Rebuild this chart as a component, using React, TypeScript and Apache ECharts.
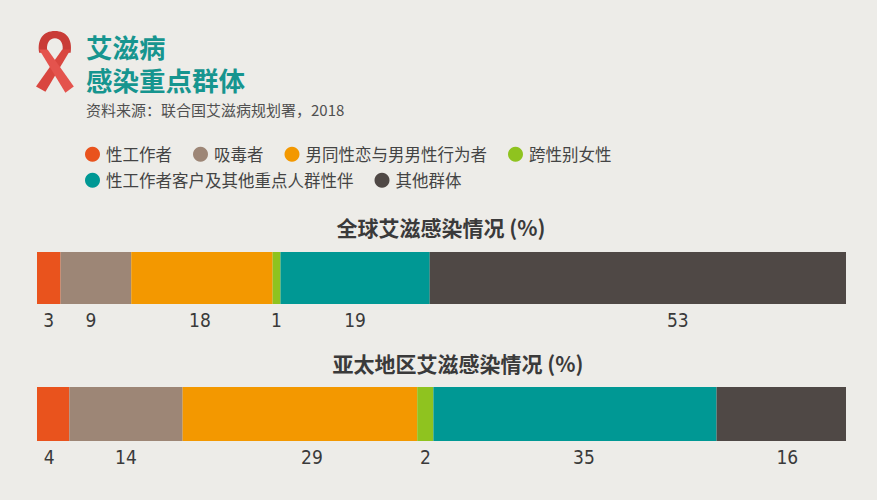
import React, { useEffect, useRef } from "react";
import * as echarts from "echarts";

const categories = [
  "性工作者",
  "吸毒者",
  "男同性恋与男男性行为者",
  "跨性别女性",
  "性工作者客户及其他重点人群性伴",
  "其他群体",
];
const globalValues = [3, 9, 18, 1, 19, 53];
const asiaValues = [4, 14, 29, 2, 35, 16];
const colors = ["#e9531d", "#9d8676", "#f39800", "#8fc31f", "#009894", "#4f4845"];
const globalLabelShift = [0, -5, -2, 0, 0, 40];
const asiaLabelShift = [-4, 0, 12, 0, 9, 6];

const CJK = "'Noto Sans CJK SC', 'Noto Sans', sans-serif";
const NARROW = "'Liberation Sans Narrow', 'DejaVu Sans Condensed', sans-serif";

let registered = false;
function registerRibbon() {
  if (registered) return;
  registered = true;
  echarts.graphic.registerShape(
    "ribbonLoop",
    echarts.graphic.extendPath(
      "M3 21 C1 8 7 0 18 0 C29 0 35 8 33 21 L25 21 C27 12 23 7 18 7 C13 7 9 12 11 21 Z",
      {}
    )
  );
  echarts.graphic.registerShape(
    "ribbonBack",
    echarts.graphic.extendPath("M25 18 L33 18 L9 59 L0 54 Z", {})
  );
  echarts.graphic.registerShape(
    "ribbonFront",
    echarts.graphic.extendPath("M3 18 L11 18 L36 54 L28 60 Z", {})
  );
}

export default function App() {
  const ref = useRef<HTMLDivElement>(null);

  useEffect(() => {
    if (!ref.current) return;
    registerRibbon();
    const chart = echarts.init(ref.current, undefined, { renderer: "svg" });
    const gSum = globalValues.reduce((a, b) => a + b, 0);
    const aSum = asiaValues.reduce((a, b) => a + b, 0);

    const mkSeries = (vals: number[], shifts: number[], idx: number, stack: string) =>
      categories.map((name, i) => ({
        type: "bar",
        name,
        stack,
        xAxisIndex: idx,
        yAxisIndex: idx,
        barWidth: "100%",
        data: [vals[i]],
        itemStyle: { color: colors[i] },
        label: {
          show: true,
          position: "bottom",
          distance: 6,
          offset: [shifts[i], 0],
          fontFamily: NARROW,
          fontSize: 19,
          color: "#3a3a3a",
        },
        emphasis: { disabled: true },
      }));

    const legendBase = {
      icon: "circle",
      itemWidth: 15,
      itemHeight: 15,
      itemGap: 21,
      left: 80,
      orient: "horizontal",
      selectedMode: false,
      textStyle: { fontFamily: CJK, fontSize: 16.5, color: "#444", padding: [0, 0, 0, 1] },
    };

    chart.setOption({
      animation: false,
      backgroundColor: "#edece8",
      color: colors,
      legend: [
        { ...legendBase, top: 141, data: categories.slice(0, 4) },
        { ...legendBase, top: 167, data: categories.slice(4) },
      ],
      grid: [
        { left: 37, right: 31, top: 252, height: 52 },
        { left: 37, right: 31, top: 387, height: 54 },
      ],
      xAxis: [
        { type: "value", gridIndex: 0, min: 0, max: gSum, show: false },
        { type: "value", gridIndex: 1, min: 0, max: aSum, show: false },
      ],
      yAxis: [
        { type: "category", gridIndex: 0, data: ["全球"], show: false },
        { type: "category", gridIndex: 1, data: ["亚太"], show: false },
      ],
      series: [
        ...mkSeries(globalValues, globalLabelShift, 0, "global"),
        ...mkSeries(asiaValues, asiaLabelShift, 1, "asia"),
      ],
      graphic: [
        {
          type: "group",
          x: 36,
          y: 31,
          scaleX: 1.05,
          scaleY: 1.03,
          children: [
            { type: "ribbonLoop", style: { fill: "#c93c37" } },
            { type: "ribbonBack", style: { fill: "#d9463f" } },
            { type: "ribbonFront", style: { fill: "#e4534d" } },
          ],
        },
        {
          type: "text",
          x: 86,
          y: 30,
          style: {
            text: "艾滋病\n感染重点群体",
            fontFamily: CJK,
            fontSize: 26.5,
            lineHeight: 33,
            fontWeight: "bold",
            fill: "#16958f",
            verticalAlign: "top",
          },
        },
        {
          type: "text",
          x: 86,
          y: 109,
          style: {
            text: "资料来源：联合国艾滋病规划署，2018",
            fontFamily: CJK,
            fontSize: 15,
            fill: "#505050",
            verticalAlign: "middle",
          },
        },
        {
          type: "text",
          x: 441,
          y: 227,
          style: {
            text: "全球艾滋感染情况 (%)",
            fontFamily: CJK,
            fontSize: 21,
            fontWeight: "bold",
            fill: "#3a3a3a",
            align: "center",
            verticalAlign: "middle",
          },
        },
        {
          type: "text",
          x: 458,
          y: 363,
          style: {
            text: "亚太地区艾滋感染情况 (%)",
            fontFamily: CJK,
            fontSize: 21,
            fontWeight: "bold",
            fill: "#3a3a3a",
            align: "center",
            verticalAlign: "middle",
          },
        },
      ],
    });
    return () => chart.dispose();
  }, []);

  return (
    <div
      ref={ref}
      style={{ position: "fixed", left: 0, top: 0, width: 877, height: 500 }}
    />
  );
}
